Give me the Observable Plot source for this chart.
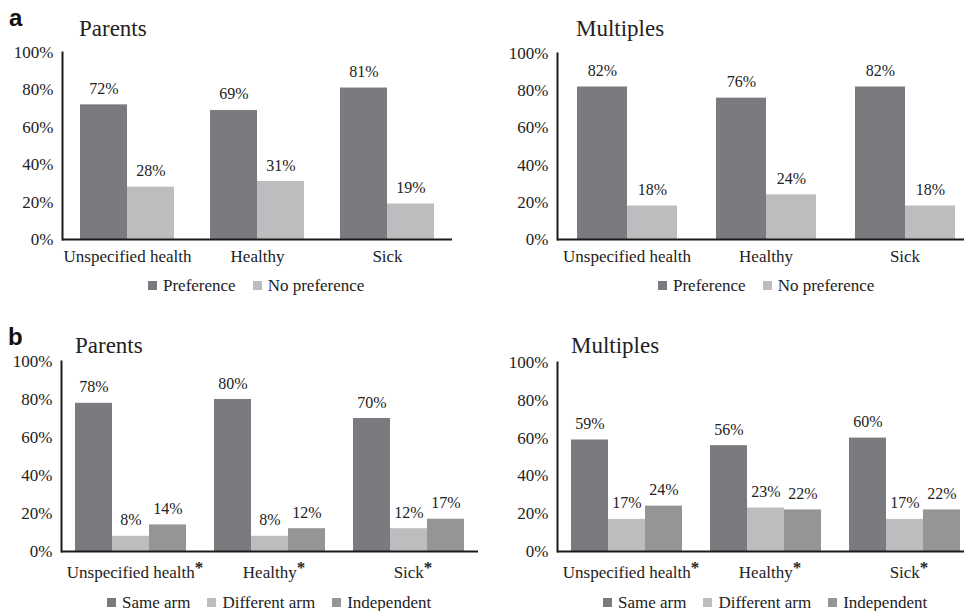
<!DOCTYPE html>
<html>
<head>
<meta charset="utf-8">
<script src="https://cdn.jsdelivr.net/npm/d3@7"></script>
<script src="https://cdn.jsdelivr.net/npm/@observablehq/plot@0.6"></script>
<style>
  body { margin: 0; background: #fff; }
  #wrap { position: relative; width: 964px; height: 611px; overflow: hidden; background: #fff;
          font-family: "Liberation Serif", "Times New Roman", serif; color: #222; }
  .panel { position: absolute; }
  .tag { position: absolute; font-family: "Liberation Sans", Arial, sans-serif; font-weight: bold;
         font-size: 24px; line-height: 1; color: #111; }
  .title { position: absolute; font-size: 23px; line-height: 1; color: #222; white-space: nowrap; }
  .legend { position: absolute; display: flex; align-items: center; gap: 17px; font-size: 17px;
            line-height: 17px; white-space: nowrap; color: #222; }
  .legend .item { display: flex; align-items: center; }
  .legend .sw { width: 9px; height: 9px; margin-right: 6px; }
</style>
</head>
<body>
<div id="wrap"></div>
<script>
// ---- data ----
const categories = ["Unspecified health", "Healthy", "Sick"];
const prefSeries = ["Preference", "No preference"];
const armSeries = ["Same arm", "Different arm", "Independent"];
const prefColors = ["#7b7b7f", "#bdbdbf"];
const armColors = ["#7b7b7f", "#bdbdbf", "#959598"];
const yTicks = [0, 20, 40, 60, 80, 100];

const parentsPreference = [72, 69, 81];
const parentsNoPreference = [28, 31, 19];
const multiplesPreference = [82, 76, 82];
const multiplesNoPreference = [18, 24, 18];

const parentsSameArm = [78, 80, 70];
const parentsDifferentArm = [8, 8, 12];
const parentsIndependent = [14, 12, 17];
const multiplesSameArm = [59, 56, 60];
const multiplesDifferentArm = [17, 23, 17];
const multiplesIndependent = [24, 22, 22];

function rowsFrom(series, values) {
  return series.flatMap((s, i) => categories.map((c, j) => ({category: c, series: s, value: values[i][j]})));
}

const wrap = document.getElementById("wrap");

function panel(opts) {
  const {rows, series, colors, left, top, width, height, marginLeft, marginRight, marginTop, marginBottom, labelPad, star} = opts;
  const svg = Plot.plot({
    width, height, marginLeft, marginRight, marginTop, marginBottom,
    style: {fontFamily: '"Liberation Serif","Times New Roman",serif', fontSize: "17px", color: "#222",
            background: "transparent", maxWidth: "none", overflow: "visible"},
    fx: {domain: categories, padding: 0, label: null, axis: "bottom", tickSize: 0, tickPadding: labelPad},
    x: {domain: series, paddingInner: 0, paddingOuter: 0.375, axis: null},
    y: {domain: [0, 100], ticks: yTicks, tickFormat: d => d + "%", tickSize: 0, tickPadding: 9, label: null},
    color: {domain: series, range: colors},
    marks: [
      Plot.barY(rows, {fx: "category", x: "series", y: "value", fill: "series"}),
      Plot.text(rows, {fx: "category", x: "series", y: "value", text: d => d.value + "%",
                       dy: -11, lineAnchor: "bottom", fontSize: 16, fill: "#222"}),
      Plot.ruleY([0], {stroke: "#1a1a1a", strokeWidth: 2}),
      Plot.frame({anchor: "left", facetAnchor: "left", stroke: "#1a1a1a", strokeWidth: 2})
    ]
  });
  if (star) {
    svg.querySelectorAll('[aria-label="fx-axis tick label"] text').forEach(t => {
      const ts = document.createElementNS("http://www.w3.org/2000/svg", "tspan");
      ts.textContent = "*";
      ts.setAttribute("dy", "-0.25em");
      ts.setAttribute("font-weight", "bold");
      t.appendChild(ts);
      t.setAttribute("dx", "4");
    });
  }
  const div = document.createElement("div");
  div.className = "panel";
  div.style.left = left + "px";
  div.style.top = top + "px";
  div.style.width = width + "px";
  div.appendChild(svg);
  wrap.appendChild(div);
}

function addText(cls, text, left, top) {
  const d = document.createElement("div");
  d.className = cls;
  d.textContent = text;
  d.style.left = left + "px";
  d.style.top = top + "px";
  wrap.appendChild(d);
}

function legend(series, colors, left, top) {
  const d = document.createElement("div");
  d.className = "legend";
  d.style.left = left + "px";
  d.style.top = top + "px";
  series.forEach((s, i) => {
    const it = document.createElement("div");
    it.className = "item";
    const sw = document.createElement("div");
    sw.className = "sw";
    sw.style.background = colors[i];
    const tx = document.createElement("span");
    tx.textContent = s;
    it.appendChild(sw); it.appendChild(tx);
    d.appendChild(it);
  });
  wrap.appendChild(d);
}

// ---- panel a ----
panel({rows: rowsFrom(prefSeries, [parentsPreference, parentsNoPreference]), series: prefSeries, colors: prefColors,
       left: 0, top: 0, width: 480, height: 270, marginLeft: 61, marginRight: 28, marginTop: 52, marginBottom: 31, labelPad: 10});
panel({rows: rowsFrom(prefSeries, [multiplesPreference, multiplesNoPreference]), series: prefSeries, colors: prefColors,
       left: 480, top: 0, width: 494, height: 270, marginLeft: 77, marginRight: 0, marginTop: 53, marginBottom: 31, labelPad: 10});
// ---- panel b ----
panel({rows: rowsFrom(armSeries, [parentsSameArm, parentsDifferentArm, parentsIndependent]), series: armSeries, colors: armColors,
       left: 0, top: 300, width: 480, height: 280, marginLeft: 61, marginRight: 2, marginTop: 61, marginBottom: 29, labelPad: 14, star: true});
panel({rows: rowsFrom(armSeries, [multiplesSameArm, multiplesDifferentArm, multiplesIndependent]), series: armSeries, colors: armColors,
       left: 480, top: 300, width: 494, height: 280, marginLeft: 77, marginRight: 0, marginTop: 62, marginBottom: 29, labelPad: 14, star: true});

addText("tag", "a", 9, 6);
addText("tag", "b", 8, 325);
addText("title", "Parents", 79, 17);
addText("title", "Multiples", 576, 17);
addText("title", "Parents", 75, 334);
addText("title", "Multiples", 571, 334);

legend(prefSeries, prefColors, 148, 277);
legend(prefSeries, prefColors, 658, 277);
legend(armSeries, armColors, 107, 594);
legend(armSeries, armColors, 603, 594);
</script>
</body>
</html>
